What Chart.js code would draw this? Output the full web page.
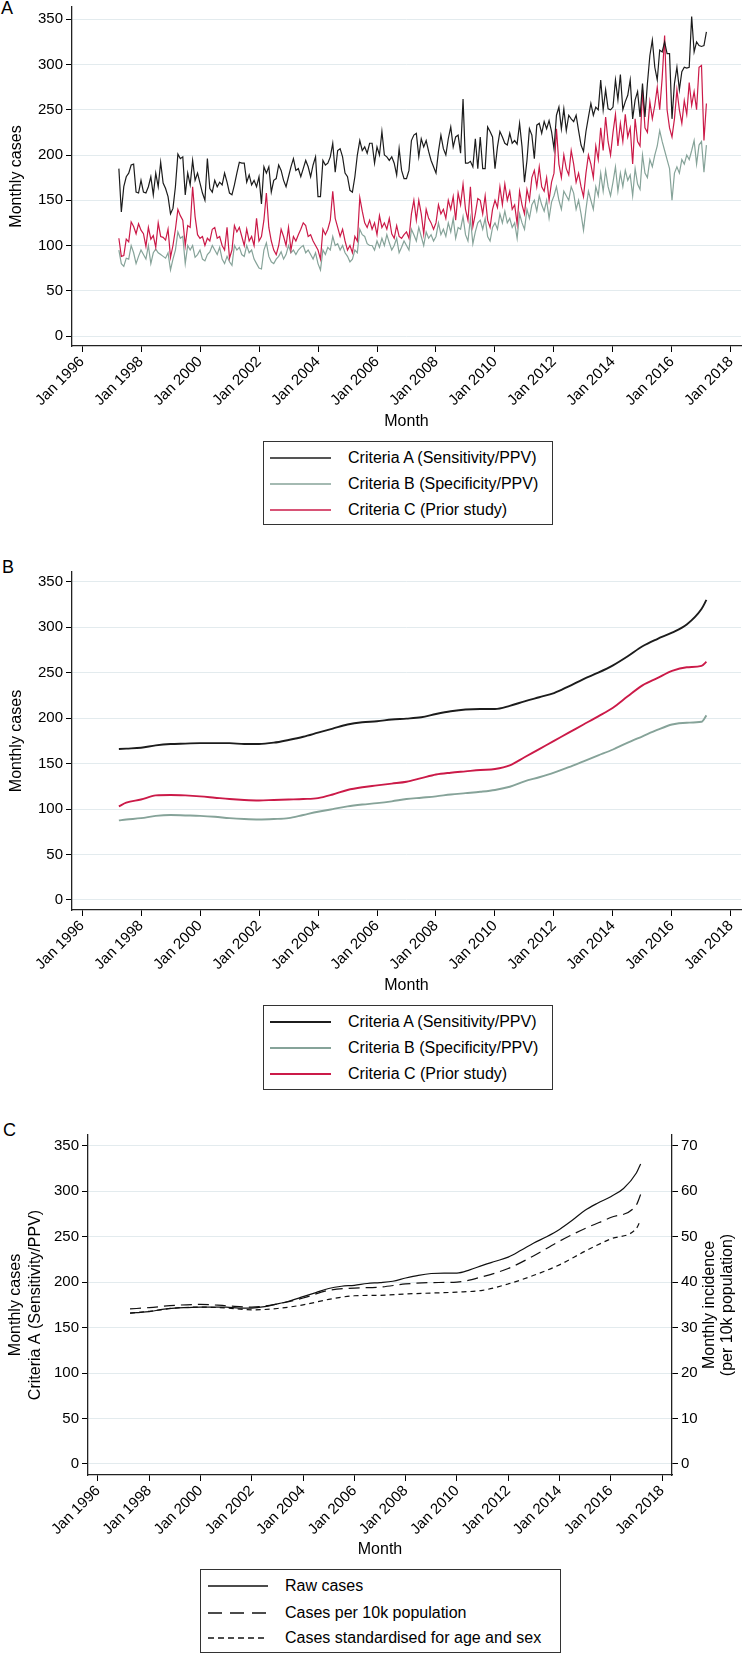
<!DOCTYPE html>
<html><head><meta charset="utf-8">
<script src="https://cdn.jsdelivr.net/npm/chart.js@4.4.0/dist/chart.umd.min.js"></script>
<style>
body{margin:0;background:#fff;width:743px;height:1653px;position:relative;overflow:hidden;font-family:'Liberation Sans',Arial,Helvetica,sans-serif;color:#000;}
canvas{position:absolute;left:0;}
.letter{position:absolute;font-size:18px;line-height:18px;}
.legend{position:absolute;border:1.3px solid #333;box-sizing:border-box;background:#fff;}
.legend svg{position:absolute;overflow:visible;}
.legend span{position:absolute;font-size:16px;line-height:20px;white-space:nowrap;}
</style></head>
<body>
<div class="letter" style="left:1px;top:-1px">A</div>
<div class="letter" style="left:2px;top:558px">B</div>
<div class="letter" style="left:3px;top:1121px">C</div>
<canvas id="cA" style="top:0px" width="743" height="440"></canvas>
<canvas id="cB" style="top:560px" width="743" height="440"></canvas>
<canvas id="cC" style="top:1100px" width="743" height="465"></canvas>
<script>
// ---------- DATA ----------
const xTickYears = [1996,1998,2000,2002,2004,2006,2008,2010,2012,2014,2016,2018];
const yTicks = [0,50,100,150,200,250,300,350];
const yTicksRight = [0,10,20,30,40,50,60,70];
const seriesNames = ['Criteria A (Sensitivity/PPV)','Criteria B (Specificity/PPV)','Criteria C (Prior study)'];
const cNames = ['Raw cases','Cases per 10k population','Cases standardised for age and sex'];

// Panel A: monthly cases, Apr 1997 - Mar 2017
const startYear = 1997, startMonth = 4;
const monthlyA = [
 185,137,165,176,180,189,190,159,158,
 172,159,158,165,176,156,180,165,192,169,163,154,
 135,141,165,201,196,198,156,180,167,194,172,180,
 169,158,150,196,163,159,172,165,170,167,180,170,
 158,156,167,180,192,191,191,170,178,167,172,165,
 176,146,187,180,187,159,172,174,189,183,172,165,
 176,187,196,183,185,176,185,194,187,176,189,198,
 154,154,194,189,191,198,213,181,205,207,198,180,
 176,161,159,176,200,216,205,209,202,213,213,191,
 209,200,226,200,198,194,198,191,178,207,183,174,
 174,183,216,222,224,198,218,209,216,204,194,187,
 180,204,222,207,200,218,231,209,220,222,202,262,
 191,191,193,187,218,185,220,185,185,231,226,220,
 185,209,226,220,213,211,224,213,216,212,235,209,
 170,194,229,222,196,233,235,224,237,229,238,226,
 207,244,253,229,251,227,244,240,237,244,227,211,
 204,226,242,257,244,253,250,283,250,272,251,250,
 253,283,261,289,250,259,266,283,240,261,270,242,
 279,242,279,310,327,297,283,316,314,325,312,312,
 240,279,297,272,292,297,296,297,353,314,325,321,
 320,321,336];
const monthlyB = [
 95,80,77,86,85,100,92,80,88,
 95,90,85,100,80,92,96,92,90,88,86,92,
 73,85,95,115,108,110,80,100,95,100,87,90,
 95,85,83,90,93,100,95,90,98,85,80,88,
 82,78,100,95,98,90,88,100,92,95,85,80,
 75,74,95,103,88,82,80,85,88,93,85,90,
 100,92,95,90,95,98,100,92,95,90,85,92,
 80,73,95,90,98,95,110,100,102,95,100,92,
 88,82,85,95,92,118,112,110,102,100,100,95,
 105,98,108,100,112,103,95,100,108,92,98,105,
 100,95,118,112,105,120,110,100,115,108,112,105,
 110,125,112,118,110,125,115,130,108,120,118,132,
 112,105,130,102,115,125,128,118,130,110,105,120,
 125,118,135,125,138,125,130,120,125,108,135,125,
 118,140,130,145,150,138,155,145,138,150,130,148,
 155,165,150,140,160,155,150,165,158,140,150,135,
 117,140,160,150,140,165,155,180,160,183,165,155,
 170,187,160,180,165,183,172,178,155,185,168,162,
 200,180,175,195,187,200,210,227,215,205,195,185,
 150,180,187,180,195,190,200,195,205,216,190,211,
 215,181,211];
const monthlyC = [
 108,88,89,107,104,126,121,113,124,
 117,113,99,120,107,111,98,125,110,109,106,118,
 87,100,118,140,133,128,100,122,120,165,132,112,
 108,110,100,108,105,118,120,108,110,100,95,120,
 86,95,122,115,120,110,100,118,105,110,100,130,
 105,110,128,158,120,105,95,90,100,118,110,100,
 120,95,110,105,112,118,125,122,110,112,105,100,
 95,85,118,112,118,128,160,130,120,110,118,105,
 95,100,92,110,105,153,138,125,120,128,118,125,
 112,133,120,125,118,130,113,108,122,110,108,112,
 115,108,135,150,128,150,135,113,140,130,125,118,
 125,145,135,140,130,150,140,154,128,158,145,168,
 140,128,165,121,135,152,150,135,155,128,120,140,
 150,142,165,145,168,150,160,140,145,124,160,145,
 135,162,150,175,183,165,187,165,160,175,150,170,
 180,229,190,175,200,185,178,205,190,170,180,165,
 154,180,200,190,175,210,195,230,205,242,215,200,
 225,245,210,235,215,245,220,230,190,240,215,210,
 272,230,225,259,240,255,275,250,285,332,250,230,
 220,240,272,250,235,260,245,280,255,270,250,297,
 299,216,257];

// Panel B: smoothed monthly cases (read every six months)
const bDates = [1997.25,1997.5,1998,1998.5,1999,1999.5,2000,2000.5,2001,2001.5,2002,2002.5,2003,2003.5,2004,2004.5,2005,2005.5,2006,2006.5,2007,2007.5,2008,2008.5,2009,2009.5,2010,2010.5,2011,2011.5,2012,2012.5,2013,2013.5,2014,2014.5,2015,2015.5,2016,2016.5,2017,2017.167];
const smoothA = [166,166.5,167.5,170,171.5,172,172.5,172.5,172.5,171.5,171.5,173,176,179.5,184,188.5,193,195.5,196.5,198.5,199.5,201,204.5,207.5,209.5,210,210,213.5,218.5,223,227.5,235,243,250,258,268,279,287,294,303,320,330];
const smoothB = [87.5,88.5,90,92.5,93.5,93,92.5,91.5,90,89,88.5,89,90,93.5,97,100,103,105,106.5,108.5,111,112.5,114,116,117.5,119,121,124.5,130.5,135,140,146,152.5,159,165.5,173,180,187,193,195,196,203];
const smoothC = [103,107,110.5,115,115.5,115,114,112.5,111,110,109.5,110,110.5,111,112,116,121,124,126,128,130,134,138,140,141.5,143,144,148,157,166,175,184,193,202,211.5,224,236,244,252,256,257.5,262];

// Panel C: incidence per 10k population (right axis), yearly readings
const cDates = [1997.25,1998,1999,2000,2001,2002,2003,2004,2005,2006,2007,2008,2009,2010,2011,2012,2013,2014,2015,2016,2017,2017.167];
const per10k = [34.1,34.4,34.9,35.1,34.8,34.5,35.2,36.5,38.2,38.7,38.9,39.6,39.9,40.0,41.2,43.0,45.8,49.0,51.8,54.2,57.0,59.3];
const standardised = [33.2,33.6,34.3,34.5,34.3,33.9,34.2,35.0,36.2,37.0,37.1,37.4,37.6,37.8,38.2,39.6,41.5,43.8,46.8,49.5,51.8,53.7];

// ---------- STYLE ----------
const FONT = "'Liberation Sans', Arial, Helvetica, sans-serif";
const COL_A = '#1c1c1c', COL_B = '#86a399', COL_C = '#cb1a48';
const GRID = '#e3ebee';
Chart.defaults.font.family = FONT;
Chart.defaults.color = '#000';

const monthX = i => startYear + (startMonth - 1 + i) / 12;
const toXY = (xs, ys) => ys.map((v, i) => ({x: xs[i], y: v}));
const monthly = arr => arr.map((v, i) => ({x: monthX(i), y: v}));

function xScale(L) {
  return {
    type: 'linear', min: L.xMin, max: L.xMax,
    afterBuildTicks: s => { s.ticks = xTickYears.map(v => ({value: v})); },
    afterFit: s => { s.height = L.xH; s.paddingLeft = 0; s.paddingRight = 0; },
    ticks: {autoSkip: false, minRotation: 45, maxRotation: 45, padding: 1,
            font: {size: 15}, color: '#000', callback: v => 'Jan ' + v},
    grid: {drawOnChartArea: false, drawTicks: true, tickLength: 6, tickColor: '#000', color: '#000'},
    border: {display: true, color: '#222', width: 1.3},
    title: {display: true, text: 'Month', font: {size: 16}, color: '#000', padding: {top: 0, bottom: L.titlePad}}
  };
}
function yScale(L, title) {
  return {
    type: 'linear', position: 'left', min: L.yMin, max: L.yMax,
    afterBuildTicks: s => { s.ticks = yTicks.map(v => ({value: v})); },
    afterFit: s => { s.width = L.yW; s.paddingTop = 0; s.paddingBottom = 0; },
    ticks: {padding: 3, font: {size: 15}, color: '#000'},
    grid: {color: GRID, lineWidth: 1, drawTicks: true, tickLength: 6, tickColor: '#000'},
    border: {display: true, color: '#222', width: 1.3},
    title: {display: true, text: title, font: {size: 16}, color: '#000', padding: {top: L.yTitlePad, bottom: 0}}
  };
}
const rightTitle = {
  id: 'rightTitle',
  afterDraw(chart, args, o) {
    if (!o || !o.lines) return;
    const ctx = chart.ctx, a = chart.chartArea;
    ctx.save();
    ctx.font = '16px ' + FONT; ctx.fillStyle = '#000';
    ctx.textAlign = 'center'; ctx.textBaseline = 'middle';
    const cy = (a.top + a.bottom) / 2;
    o.lines.forEach((t, i) => {
      ctx.save(); ctx.translate(o.x[i], cy); ctx.rotate(-Math.PI / 2);
      ctx.fillText(t, 0, 0); ctx.restore();
    });
    ctx.restore();
  }
};
function lineDs(label, data, color, width, extra) {
  return Object.assign({label, data, borderColor: color, backgroundColor: color, borderWidth: width,
    pointRadius: 0, pointHoverRadius: 0, fill: false, tension: 0}, extra || {});
}
function baseOptions(L) {
  return {
    responsive: false, animation: false, devicePixelRatio: 1,
    layout: {padding: {top: L.padTop, right: L.padRight, left: 0, bottom: 0}},
    plugins: {legend: {display: false}, tooltip: {enabled: false}},
    scales: {}
  };
}

// Panel A
const LA = {xMin: 1995.661, xMax: 2018.339, yMin: -11.05, yMax: 363.6, xH: 94, yW: 72, padTop: 7, padRight: 2, titlePad: 8.4, yTitlePad: 7.4};
const optA = baseOptions(LA);
optA.scales.x = xScale(LA); optA.scales.y = yScale(LA, 'Monthly cases');
new Chart(document.getElementById('cA'), {type: 'line', data: {datasets: [
  lineDs(seriesNames[0], monthly(monthlyA), COL_A, 1.2),
  lineDs(seriesNames[2], monthly(monthlyC), COL_C, 1.2),
  lineDs(seriesNames[1], monthly(monthlyB), COL_B, 1.2)
]}, options: optA});

// Panel B
const LB = {xMin: 1995.661, xMax: 2018.339, yMin: -11.0, yMax: 360.7, xH: 90, yW: 72, padTop: 12, padRight: 2, titlePad: 4.4, yTitlePad: 7.4};
const optB = baseOptions(LB);
optB.scales.x = xScale(LB); optB.scales.y = yScale(LB, 'Monthly cases');
const smooth = {cubicInterpolationMode: 'monotone'};
new Chart(document.getElementById('cB'), {type: 'line', data: {datasets: [
  lineDs(seriesNames[0], toXY(bDates, smoothA), COL_A, 1.9, smooth),
  lineDs(seriesNames[2], toXY(bDates, smoothC), COL_C, 1.9, smooth),
  lineDs(seriesNames[1], toXY(bDates, smoothB), COL_B, 1.9, smooth)
]}, options: optB});

// Panel C
const LC = {xMin: 1995.61, xMax: 2018.39, yMin: -12.1, yMax: 361.8, xH: 90, yW: 88, padTop: 35, padRight: 0, titlePad: 5.4, yTitlePad: 6.4};
const optC = baseOptions(LC);
optC.scales.x = xScale(LC);
optC.scales.y = yScale(LC, ['Monthly cases', 'Criteria A (Sensitivity/PPV)']);
optC.scales.y1 = {
  type: 'linear', position: 'right', min: LC.yMin / 5, max: LC.yMax / 5,
  afterBuildTicks: s => { s.ticks = yTicksRight.map(v => ({value: v})); },
  afterFit: s => { s.width = 71; s.paddingTop = 0; s.paddingBottom = 0; },
  ticks: {padding: 3, font: {size: 15}, color: '#000'},
  grid: {drawOnChartArea: false, drawTicks: true, tickLength: 6, tickColor: '#000', color: '#000'},
  border: {display: true, color: '#222', width: 1.3},
  title: {display: false}
};
optC.plugins.rightTitle = {lines: ['Monthly incidence', '(per 10k population)'], x: [710, 728]};
new Chart(document.getElementById('cC'), {type: 'line', data: {datasets: [
  lineDs(cNames[0], toXY(bDates, smoothA), '#111', 1.2, Object.assign({yAxisID: 'y'}, smooth)),
  lineDs(cNames[1], toXY(cDates, per10k), '#111', 1.2, Object.assign({yAxisID: 'y1', borderDash: [11, 6]}, smooth)),
  lineDs(cNames[2], toXY(cDates, standardised), '#111', 1.2, Object.assign({yAxisID: 'y1', borderDash: [5, 4]}, smooth))
]}, options: optC, plugins: [rightTitle]});

// ---------- LEGENDS (HTML) ----------
function legend(box, items) {
  const d = document.createElement('div');
  d.className = 'legend';
  Object.assign(d.style, {left: box.left + 'px', top: box.top + 'px', width: box.w + 'px', height: box.h + 'px'});
  items.forEach((it, i) => {
    const y = box.rows[i];
    const svg = document.createElementNS('http://www.w3.org/2000/svg', 'svg');
    svg.setAttribute('width', box.s1 - box.s0); svg.setAttribute('height', 4);
    svg.style.left = (box.s0 - box.left) + 'px'; svg.style.top = (y - 2) + 'px';
    const ln = document.createElementNS('http://www.w3.org/2000/svg', 'line');
    ln.setAttribute('x1', 0); ln.setAttribute('x2', box.s1 - box.s0);
    ln.setAttribute('y1', 2); ln.setAttribute('y2', 2);
    ln.setAttribute('stroke', it.color); ln.setAttribute('stroke-width', it.w);
    if (it.dash) ln.setAttribute('stroke-dasharray', it.dash.join(' '));
    svg.appendChild(ln); d.appendChild(svg);
    const sp = document.createElement('span');
    sp.textContent = it.label;
    sp.style.left = (box.t - box.left) + 'px'; sp.style.top = (y - 10) + 'px';
    d.appendChild(sp);
  });
  document.body.appendChild(d);
}
legend({left: 263, top: 441, w: 290, h: 84, s0: 269, s1: 330, t: 347, rows: [16, 42, 68]}, [
  {label: seriesNames[0], color: COL_A, w: 1.4}, {label: seriesNames[1], color: COL_B, w: 1.4}, {label: seriesNames[2], color: COL_C, w: 1.4}]);
legend({left: 263, top: 1005, w: 290, h: 85, s0: 269, s1: 330, t: 347, rows: [16, 42, 68]}, [
  {label: seriesNames[0], color: COL_A, w: 2}, {label: seriesNames[1], color: COL_B, w: 2}, {label: seriesNames[2], color: COL_C, w: 2}]);
legend({left: 200, top: 1569, w: 361, h: 84, s0: 207, s1: 267, t: 284, rows: [16, 43, 68]}, [
  {label: cNames[0], color: '#111', w: 1.3}, {label: cNames[1], color: '#111', w: 1.3, dash: [14, 8]}, {label: cNames[2], color: '#111', w: 1.3, dash: [6, 4]}]);
</script>
</body></html>
